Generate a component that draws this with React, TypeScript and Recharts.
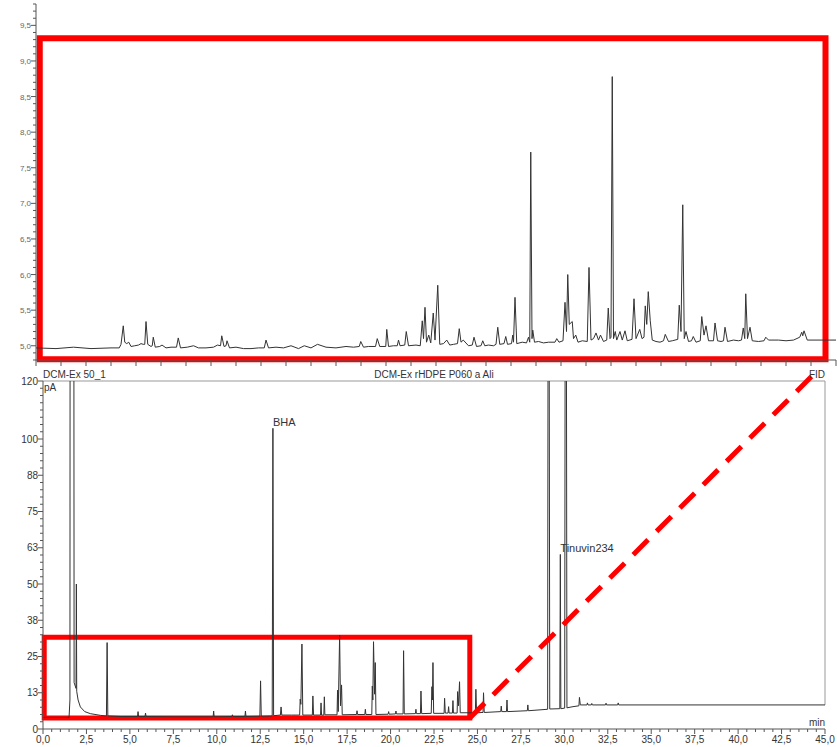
import { LineChart, Line, XAxis, YAxis, ReferenceArea, ReferenceLine, ReferenceDot } from 'recharts'

// zoomed inset (upper panel), arbitrary time units, signal in pA
const zoomTime = [
  0, 0.8, 1.5, 2.2, 3.0, 3.33, 3.4, 3.49, 3.55, 3.63,
  3.71, 3.8, 3.95, 4.1, 4.2, 4.29, 4.35, 4.4, 4.47, 4.6,
  4.65, 4.69, 4.77, 4.95, 5.04, 5.2, 5.4, 5.62, 5.69, 5.78,
  6.05, 6.3, 6.5, 6.8, 7.1, 7.26, 7.38, 7.43, 7.52, 7.6,
  7.64, 7.74, 8.0, 8.3, 8.6, 8.9, 9.13, 9.2, 9.3, 9.6,
  9.9, 10.2, 10.5, 10.73, 11.0, 11.26, 11.6, 12.0, 12.4, 12.7,
  12.93, 12.99, 13.1, 13.3, 13.58, 13.65, 13.75, 13.99, 14.03, 14.1,
  14.3, 14.45, 14.5, 14.56, 14.75, 14.81, 14.9, 15.2, 15.37, 15.45,
  15.5, 15.56, 15.62, 15.71, 15.79, 15.89, 15.96, 16.07, 16.15, 16.3,
  16.43, 16.55, 16.7, 16.86, 16.93, 17.0, 17.09, 17.3, 17.45, 17.52,
  17.62, 17.8, 17.87, 17.95, 18.1, 18.3, 18.4, 18.47, 18.55, 18.72,
  18.79, 18.86, 19.02, 19.07, 19.1, 19.16, 19.23, 19.45, 19.62, 19.7,
  19.75, 19.79, 19.84, 19.87, 19.94, 20.1, 20.3, 20.5, 20.76, 20.83,
  20.92, 21.08, 21.16, 21.22, 21.27, 21.33, 21.45, 21.5, 21.59, 21.68,
  21.85, 22.05, 22.12, 22.2, 22.3, 22.4, 22.5, 22.58, 22.7, 22.83,
  22.89, 22.96, 23.0, 23.05, 23.1, 23.17, 23.23, 23.36, 23.45, 23.56,
  23.65, 23.84, 23.92, 24.0, 24.15, 24.24, 24.32, 24.37, 24.43, 24.49,
  24.57, 24.65, 24.8, 24.96, 25.1, 25.17, 25.3, 25.45, 25.67, 25.73,
  25.8, 25.87, 25.93, 26.0, 26.1, 26.22, 26.29, 26.4, 26.57, 26.63,
  26.72, 26.8, 26.9, 27.1, 27.16, 27.26, 27.4, 27.5, 27.56, 27.66,
  27.9, 28.1, 28.22, 28.29, 28.35, 28.39, 28.46, 28.56, 28.65, 28.9,
  29.12, 29.19, 29.3, 29.7, 30.0, 30.3, 30.55, 30.63, 30.67, 30.72,
  30.85, 31.4, 32.0,
]
const zoomSignal = [
  4.97, 4.96, 4.98, 4.96, 4.97, 4.97, 5.02, 5.28, 5.05, 5.03,
  5.05, 4.99, 5.0, 5.01, 5.03, 5.02, 5.02, 5.34, 5.02, 4.99,
  5.0, 5.12, 4.98, 4.99, 5.01, 4.97, 4.98, 4.98, 5.11, 4.97,
  4.98, 5.0, 4.97, 4.97, 4.98, 5.01, 5.0, 5.14, 4.99, 5.0,
  5.07, 4.97, 4.98, 4.96, 4.96, 4.97, 4.97, 5.08, 4.97, 4.98,
  4.97, 5.0, 4.96, 5.0, 4.97, 5.02, 4.98, 4.97, 4.99, 4.98,
  4.99, 5.06, 4.98, 4.99, 4.99, 5.1, 4.99, 4.99, 5.23, 4.99,
  5.0, 5.0, 5.08, 5.0, 5.01, 5.2, 5.0, 5.01, 5.0, 5.35,
  5.1, 5.54, 5.05, 5.15, 5.04, 5.46, 5.08, 5.85, 5.02, 5.03,
  5.08, 5.01, 5.02, 5.03, 5.24, 5.05, 5.08, 5.0, 5.01, 5.12,
  4.99, 5.0, 5.07, 5.0, 5.01, 5.0, 5.02, 5.26, 5.02, 5.03,
  5.13, 5.02, 5.03, 5.15, 5.05, 5.68, 5.03, 5.05, 5.04, 5.12,
  5.05, 7.72, 5.1, 5.22, 5.05, 5.06, 5.04, 5.05, 5.05, 5.1,
  5.05, 5.07, 5.61, 5.2, 6.0, 5.3, 5.34, 5.1, 5.15, 5.05,
  5.07, 5.06, 6.1, 5.08, 5.1, 5.18, 5.08, 5.15, 5.06, 5.08,
  5.53, 5.1, 5.12, 8.78, 5.1, 5.2, 5.08, 5.2, 5.08, 5.21,
  5.07, 5.09, 5.66, 5.1, 5.23, 5.1, 5.12, 5.56, 5.3, 5.76,
  5.35, 5.08, 5.06, 5.05, 5.07, 5.16, 5.06, 5.07, 5.09, 5.57,
  5.2, 6.98, 5.1, 5.2, 5.06, 5.07, 5.13, 5.05, 5.07, 5.41,
  5.15, 5.28, 5.07, 5.07, 5.32, 5.07, 5.06, 5.07, 5.26, 5.06,
  5.08, 5.07, 5.08, 5.25, 5.1, 5.73, 5.1, 5.26, 5.07, 5.06,
  5.07, 5.12, 5.08, 5.08, 5.07, 5.08, 5.12, 5.19, 5.14, 5.21,
  5.08, 5.08, 5.08,
]

// full chromatogram (lower panel), retention time in min, signal in pA
const rtTime = [
  0, 1.5, 1.55, 1.57, 1.76, 1.79, 1.9, 1.92, 1.94, 2.02, 2.15, 2.4, 2.72, 3.3, 3.65, 3.69, 3.73, 4.5,
  5.44, 5.47, 5.5, 5.87, 5.9, 5.93, 7.5, 9.79, 9.82, 9.85, 10.87, 10.9, 10.93, 11.62, 11.65, 11.68,
  12.48, 12.52, 12.56, 13.19, 13.23, 13.27, 13.66, 13.7, 13.74, 14.3, 14.77, 14.8, 14.84, 14.9, 14.95,
  15.5, 15.53, 15.57, 15.97, 16.0, 16.03, 16.16, 16.19, 16.22, 16.92, 16.95, 16.99, 17.07, 17.12,
  17.18, 17.22, 18.04, 18.07, 18.1, 18.52, 18.55, 18.58, 18.92, 18.95, 18.98, 19.02, 19.08, 19.12,
  19.16, 19.86, 19.89, 19.92, 20.28, 20.31, 20.34, 20.72, 20.75, 20.79, 21.43, 21.46, 21.49, 21.72,
  21.75, 21.79, 22.34, 22.38, 22.41, 22.44, 22.48, 23.08, 23.11, 23.15, 23.31, 23.34, 23.37, 23.56,
  23.59, 23.62, 23.83, 23.86, 23.91, 23.97, 24.01, 24.88, 24.91, 24.95, 25.32, 25.35, 25.39, 26.34,
  26.37, 26.4, 26.67, 26.7, 26.73, 27.87, 27.9, 27.93, 29.04, 29.09, 29.16, 29.74, 29.77, 29.8,
  30.02, 30.08, 30.15, 30.5, 30.84, 30.87, 30.92, 31.3, 31.33, 31.36, 31.55, 31.58, 31.61, 32.37,
  32.4, 32.43, 33.07, 33.1, 33.13, 45,
]
const rtSignal = [
  4.0, 4.0, 10, 300, 300, 16, 14, 50, 13, 10, 7.6, 6.0, 5.3, 4.7, 4.5, 29.8, 4.5, 4.3,
  4.3, 6.0, 4.3, 4.3, 5.5, 4.3, 4.2, 4.2, 6.2, 4.2, 4.3, 4.9, 4.3, 4.3, 6.2, 4.3,
  4.4, 16.6, 4.4, 4.5, 103.7, 4.6, 4.8, 7.6, 4.8, 4.8, 4.8, 10.3, 8.5, 29.3, 4.8,
  4.8, 11.4, 4.8, 4.8, 9.0, 4.8, 4.8, 11.1, 4.9, 4.9, 13.4, 6.0, 32.4, 8.0,
  15.2, 4.9, 5.0, 6.3, 5.0, 5.0, 6.8, 5.0, 5.0, 14.8, 10.0, 30.1, 12.0, 22.9,
  5.0, 5.1, 6.0, 5.1, 5.2, 6.2, 5.2, 5.2, 27.0, 5.2, 5.3, 6.8, 5.3, 5.3,
  13.1, 5.3, 5.4, 14.6, 10.0, 22.9, 5.4, 5.4, 10.6, 5.5, 5.5, 7.7, 5.5, 5.5,
  9.8, 5.5, 5.5, 12.9, 8.0, 16.3, 5.6, 5.6, 13.7, 5.6, 5.7, 12.5, 5.7, 6.0,
  7.9, 6.0, 6.0, 10.0, 6.0, 6.3, 8.3, 6.3, 6.8, 300, 6.9, 7.0, 60.2, 7.0,
  7.2, 300, 7.3, 7.7, 8.0, 10.9, 8.3, 8.3, 9.0, 8.3, 8.3, 8.8, 8.3, 8.3,
  8.9, 8.3, 8.3, 9.0, 8.3, 8.3,
]

const peakNames = ['BHA', 'Tinuvin234']
const peakTimes = [13.23, 29.77]
const peakHeights = [103.7, 60.2]

const rtMajorTicks = [0, 12.5, 25, 37.5, 50, 62.5, 75, 87.5, 100, 120]
const zoomMajorTicks = [5.0, 5.5, 6.0, 6.5, 7.0, 7.5, 8.0, 8.5, 9.0, 9.5]

const zoomYTicks = Array.from({ length: 51 }, (_, i) => Math.round((4.8 + i * 0.1) * 10) / 10)
const zoomXTicks = Array.from({ length: 33 }, (_, i) => i)
const rtYTicks = Array.from({ length: 49 }, (_, i) => i * 2.5)
const rtXTicks = Array.from({ length: 91 }, (_, i) => i * 0.5)

const FONT = 'Liberation Sans, Arial, sans-serif'
const RED = '#ff0000'
const AXIS = '#555'

const zoomData = zoomTime.map((t, i) => ({ t, v: zoomSignal[i] }))
const rtData = rtTime.map((t, i) => ({ t, v: rtSignal[i] }))

const ZoomYTick = (props: any) => {
  const { x, y, payload } = props
  const v = payload.value
  const major = zoomMajorTicks.includes(v)
  return (
    <g>
      <line x1={x - (major ? 5 : 3)} x2={x} y1={y} y2={y} stroke={AXIS} />
      {major && (
        <text x={x - 5} y={y + 3} textAnchor="end" fontSize={8} fill="#666" fontFamily={FONT}>
          {v.toFixed(1).replace('.', ',')}
        </text>
      )}
    </g>
  )
}

const ZoomXTick = (props: any) => {
  const { x, y } = props
  return <line x1={x} x2={x} y1={y} y2={y + 6} stroke={AXIS} />
}

const RtYTick = (props: any) => {
  const { x, y, payload } = props
  const v = payload.value
  const major = rtMajorTicks.includes(v)
  return (
    <g>
      <line x1={x - (major ? 5 : 3)} x2={x} y1={y} y2={y} stroke={AXIS} />
      {major && (
        <text x={x - 5} y={y + 3.5} textAnchor="end" fontSize={10} fill="#333" fontFamily={FONT}>
          {Math.round(v)}
        </text>
      )}
    </g>
  )
}

const RtXTick = (props: any) => {
  const { x, y, payload } = props
  const v = payload.value
  const major = v % 2.5 === 0
  return (
    <g>
      <line x1={x} x2={x} y1={y} y2={y + (major ? 5 : 3)} stroke={AXIS} />
      {major && (
        <text x={x} y={y + 14} textAnchor="middle" fontSize={10} fill="#333" fontFamily={FONT}>
          {v.toFixed(1).replace('.', ',')}
        </text>
      )}
    </g>
  )
}

const peakLabel = (name: string) => (props: any) => {
  const vb = props.viewBox || {}
  return (
    <text x={vb.x} y={vb.y - 2} fontSize={11} fill="#333" fontFamily={FONT}>
      {name}
    </text>
  )
}

export default function App() {
  return (
    <div style={{ position: 'absolute', left: 0, top: 0, width: 837, height: 747, background: '#fff' }}>
      <div style={{ position: 'absolute', left: 0, top: 0 }}>
        <LineChart width={837} height={370} data={zoomData} margin={{ top: 4, right: 1, left: 0, bottom: 0 }}>
          <XAxis
            dataKey="t"
            type="number"
            domain={[0, 32]}
            ticks={zoomXTicks}
            interval={0}
            height={10}
            tickSize={0}
            tickMargin={0}
            tickLine={false}
            tick={<ZoomXTick />}
            axisLine={{ stroke: AXIS }}
            allowDataOverflow
          />
          <YAxis
            type="number"
            domain={[4.8, 9.8]}
            ticks={zoomYTicks}
            interval={0}
            width={36}
            tickSize={0}
            tickMargin={0}
            tickLine={false}
            tick={<ZoomYTick />}
            axisLine={{ stroke: AXIS }}
            allowDataOverflow
          />
          <Line dataKey="v" type="linear" stroke="#333" strokeWidth={1} dot={false} isAnimationActive={false} />
          <ReferenceArea
            x1={0.15}
            x2={31.58}
            y1={4.81}
            y2={9.32}
            fill="none"
            stroke={RED}
            strokeWidth={6}
            ifOverflow="visible"
          />
        </LineChart>
      </div>
      <div style={{ position: 'absolute', left: 0, top: 0 }}>
        <LineChart width={837} height={747} data={rtData} margin={{ top: 381, right: 12, left: 0, bottom: 0 }}>
          <XAxis
            dataKey="t"
            type="number"
            domain={[0, 45]}
            ticks={rtXTicks}
            interval={0}
            height={18}
            tickSize={0}
            tickMargin={0}
            tickLine={false}
            tick={<RtXTick />}
            axisLine={{ stroke: AXIS }}
            allowDataOverflow
          />
          <YAxis
            type="number"
            domain={[0, 120]}
            ticks={rtYTicks}
            interval={0}
            width={43}
            tickSize={0}
            tickMargin={0}
            tickLine={false}
            tick={<RtYTick />}
            axisLine={{ stroke: AXIS }}
            allowDataOverflow
          />
          <ReferenceLine y={120} stroke="#999" />
          <ReferenceLine segment={[{ x: 45, y: 8.3 }, { x: 45, y: 120 }]} stroke="#999" />
          <Line dataKey="v" type="linear" stroke="#333" strokeWidth={1} dot={false} isAnimationActive={false} />
          {peakNames.map((name, i) => (
            <ReferenceDot
              key={name}
              x={peakTimes[i]}
              y={peakHeights[i]}
              r={0}
              stroke="none"
              fill="none"
              label={peakLabel(name)}
            />
          ))}
          <ReferenceArea
            x1={0.07}
            x2={24.56}
            y1={3.8}
            y2={31.6}
            fill="none"
            stroke={RED}
            strokeWidth={5}
            ifOverflow="visible"
          />
          <ReferenceLine
            segment={[{ x: 24.56, y: 3.8 }, { x: 44.6, y: 123.8 }]}
            stroke={RED}
            strokeWidth={5}
            strokeDasharray="21 12"
            ifOverflow="visible"
          />
        </LineChart>
      </div>
      <svg width={837} height={747} style={{ position: 'absolute', left: 0, top: 0, pointerEvents: 'none' }}>
        <g fontFamily={FONT} fontSize={10} fill="#333">
          <text x={43} y={378}>DCM-Ex 50_1</text>
          <text x={434} y={378} textAnchor="middle">DCM-Ex rHDPE P060 a Ali</text>
          <text x={825} y={378} textAnchor="end">FID</text>
          <text x={44} y={391}>pA</text>
          <text x={825} y={726} textAnchor="end">min</text>
        </g>
      </svg>
    </div>
  )
}
